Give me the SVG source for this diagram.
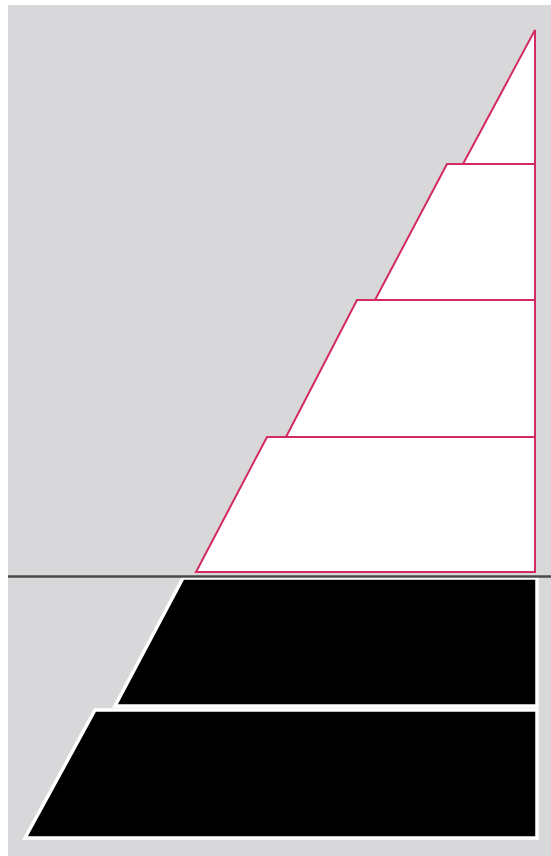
<svg xmlns="http://www.w3.org/2000/svg" width="551" height="856" viewBox="0 0 551 856">
<style>
.tier{fill:#ffffff;stroke:#d42a62;stroke-width:2;stroke-linejoin:miter}
.base{fill:#000000;stroke:#ffffff;stroke-width:3.5;stroke-linejoin:miter}
</style>
<rect x="0" y="0" width="551" height="856" fill="#ffffff"/>
<rect x="8" y="5" width="543" height="851" fill="#d8d8da"/>
<g id="base-2"><polygon class="base" points="95,710 537,710 537,838 25,838"/></g>
<g id="base-1"><polygon class="base" points="183,578 537,578 537,706 115,706"/></g>
<g id="tier-4"><polygon class="tier" points="267,437 535,437 535,572 196,572"/></g>
<g id="tier-3"><polygon class="tier" points="357,300 535,300 535,437 286,437"/></g>
<g id="tier-2"><polygon class="tier" points="447,164 535,164 535,300 375,300"/></g>
<g id="tier-1"><polygon class="tier" points="535,30 535,164 463,164"/></g>
<g id="connectors"><line x1="8" y1="576.5" x2="551" y2="576.5" stroke="#4a4a4a" stroke-width="2.5"/></g>
</svg>
